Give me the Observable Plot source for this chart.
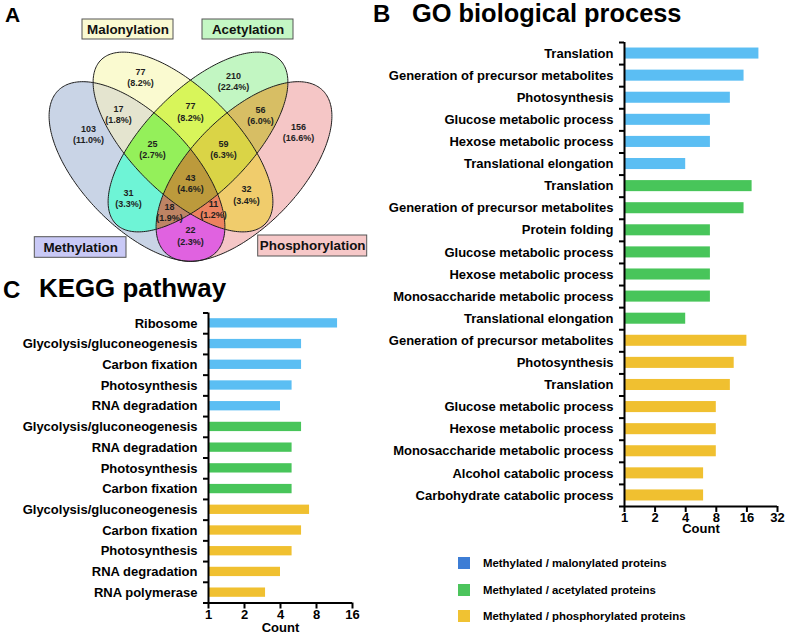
<!DOCTYPE html>
<html><head><meta charset="utf-8">
<script src="https://cdn.jsdelivr.net/npm/d3@7"></script>
<script src="https://cdn.jsdelivr.net/npm/@observablehq/plot@0.6"></script>
<style>
body{margin:0;background:#fff;}
#fig{position:relative;width:787px;height:634px;overflow:hidden;font-family:"Liberation Sans",Arial,Helvetica,sans-serif;color:#000;background:#fff;}
.abs{position:absolute;white-space:nowrap;line-height:1;font-weight:bold;}
</style></head>
<body><div id="fig"></div>
<script>
// ---------------- DATA ----------------
// Venn: sets (bit 1, 2, 4, 8)
const setNames = ["Methylation", "Malonylation", "Acetylation", "Phosphorylation"];
// each region = bit mask of the sets it belongs to
const regionSets = [1, 2, 4, 8, 3, 6, 12, 7, 14, 15, 5, 10, 13, 11, 9];
const regionCounts = [103, 77, 210, 156, 17, 77, 56, 25, 59, 43, 31, 32, 18, 11, 22];
const regionPercents = ["11.0%", "8.2%", "22.4%", "16.6%", "1.8%", "8.2%", "6.0%", "2.7%", "6.3%", "4.6%", "3.3%", "3.4%", "1.9%", "1.2%", "2.3%"];

// Groups
const groupNames = ["Methylated / malonylated proteins", "Methylated / acetylated proteins", "Methylated / phosphorylated proteins"];

// GO biological process
const goTerms = ["Translation", "Generation of precursor metabolites", "Photosynthesis", "Glucose metabolic process", "Hexose metabolic process", "Translational elongation",
  "Translation", "Generation of precursor metabolites", "Protein folding", "Glucose metabolic process", "Hexose metabolic process", "Monosaccharide metabolic process", "Translational elongation",
  "Generation of precursor metabolites", "Photosynthesis", "Translation", "Glucose metabolic process", "Hexose metabolic process", "Monosaccharide metabolic process", "Alcohol catabolic process", "Carbohydrate catabolic process"];
const goCounts = [21, 15, 11, 7, 7, 4, 18, 15, 7, 7, 7, 7, 4, 16, 12, 11, 8, 8, 8, 6, 6];
const goGroup = [0, 0, 0, 0, 0, 0, 1, 1, 1, 1, 1, 1, 1, 2, 2, 2, 2, 2, 2, 2, 2];
const goTicks = [1, 2, 4, 8, 16, 32];

// KEGG pathway
const keggTerms = ["Ribosome", "Glycolysis/gluconeogenesis", "Carbon fixation", "Photosynthesis", "RNA degradation",
  "Glycolysis/gluconeogenesis", "RNA degradation", "Photosynthesis", "Carbon fixation",
  "Glycolysis/gluconeogenesis", "Carbon fixation", "Photosynthesis", "RNA degradation", "RNA polymerase"];
const keggCounts = [12, 6, 6, 5, 4, 6, 5, 5, 5, 7, 6, 5, 4, 3];
const keggGroup = [0, 0, 0, 0, 0, 1, 1, 1, 1, 2, 2, 2, 2, 2];
const keggTicks = [1, 2, 4, 8, 16];

// ---------------- STYLE / LAYOUT ----------------
const FONT = '"Liberation Sans", Arial, Helvetica, sans-serif';
const barColors = ["#5bbef3", "#48c55a", "#f0c030"];
const legendColors = ["#3d7dd5", "#4cc45c", "#f0c232"];
const regionColor = {1: "#c9d4e6", 2: "#fafad0", 4: "#c2f6c2", 8: "#f5c6c6", 3: "#e4e4cf", 6: "#d8f55a", 12: "#d7be64",
  7: "#94f05a", 14: "#dad446", 15: "#bc9a3c", 5: "#6ef4d6", 10: "#f0cc6c", 13: "#be8464", 11: "#ec825f", 9: "#e062e0"};
// ellipse geometry (Venn panel pixels, angle in degrees, y down)
const ellipses = [
  {cx: 136.5, cy: 171, a: 113, b: 55, angle: 46},
  {cx: 182.5, cy: 141.5, a: 116, b: 52, angle: 45},
  {cx: 197.5, cy: 141.5, a: 116, b: 52, angle: 135},
  {cx: 243.5, cy: 171, a: 113, b: 55, angle: 134}
];
const regionLabelPos = [[88, 133.5], [140, 76.5], [233, 80.5], [298, 131.5], [118, 113.5], [190, 111], [260, 114.5],
  [152, 148.5], [223, 148.5], [190, 182.5], [128, 197.5], [246, 194], [169, 211.5], [213, 208.5], [190, 235]];
const setBoxes = [
  {x1: 34.3, x2: 126, y1: 236.7, y2: 257.3, fill: "#c9c9f6"},
  {x1: 82, x2: 173, y1: 19, y2: 39, fill: "#fafad2"},
  {x1: 202, x2: 293, y1: 19, y2: 39, fill: "#c4f7c4"},
  {x1: 257.7, x2: 366.7, y1: 235, y2: 256, fill: "#f6c8c8"}
];

const fig = document.getElementById("fig");
function addDiv(text, left, top, size) {
  const d = document.createElement("div");
  d.className = "abs";
  d.textContent = text;
  Object.assign(d.style, {left: left + "px", top: top + "px", fontSize: size + "px"});
  fig.appendChild(d);
  return d;
}
function addPlot(svg, left, top) {
  svg.style.position = "absolute";
  svg.style.left = left + "px";
  svg.style.top = top + "px";
  fig.appendChild(svg);
}

// ---------------- VENN ----------------
function inside(e, x, y) {
  const t = e.angle * Math.PI / 180, c = Math.cos(t), s = Math.sin(t);
  const dx = x - e.cx, dy = y - e.cy;
  const u = dx * c + dy * s, v = -dx * s + dy * c;
  return (u / e.a) ** 2 + (v / e.b) ** 2 <= 1;
}
function mask(x, y) {
  let m = 0;
  ellipses.forEach((e, k) => { if (inside(e, x, y)) m |= (1 << k); });
  return m;
}
const outline = [];
ellipses.forEach((e, k) => {
  const t = e.angle * Math.PI / 180, c = Math.cos(t), s = Math.sin(t);
  for (let deg = 0; deg <= 360; deg += 1.5) {
    const p = deg * Math.PI / 180;
    outline.push({set: setNames[k], x: e.cx + e.a * Math.cos(p) * c - e.b * Math.sin(p) * s, y: e.cy + e.a * Math.cos(p) * s + e.b * Math.sin(p) * c});
  }
});
const regions = regionSets.map((m, i) => ({mask: m, count: regionCounts[i], pct: regionPercents[i], x: regionLabelPos[i][0], y: regionLabelPos[i][1]}));
const boxes = setNames.map((name, k) => ({name, ...setBoxes[k]}));

const venn = Plot.plot({
  width: 380, height: 270, margin: 0,
  style: {fontFamily: FONT, background: "transparent", overflow: "visible"},
  x: {domain: [0, 380], range: [0, 380], axis: null},
  y: {domain: [0, 270], range: [0, 270], axis: null},
  color: {type: "identity"},
  marks: [
    Plot.raster({x1: 0, x2: 380, y1: 0, y2: 270, pixelSize: 1, fill: (x, y) => { const m = mask(x, y); return m ? regionColor[m] : "#ffffff"; }}),
    Plot.line(outline, {x: "x", y: "y", z: "set", stroke: "#1e1e1e", strokeWidth: 1}),
    Plot.text(regions, {x: "x", y: "y", text: d => `${d.count}\n(${d.pct})`, fontSize: 9, fontWeight: "bold", lineHeight: 1.25, fill: "#1e1e1e"}),
    Plot.rect(boxes, {x1: "x1", x2: "x2", y1: "y1", y2: "y2", fill: "fill", stroke: "#555", strokeWidth: 1}),
    Plot.text(boxes, {x: d => (d.x1 + d.x2) / 2, y: d => (d.y1 + d.y2) / 2, text: "name", fontSize: 13.4, fontWeight: "bold", fill: "#111"})
  ]
});
addPlot(venn, 0, 0);

// ---------------- BAR CHARTS ----------------
function barChart({terms, counts, groups, ticks, width, height, margins, pad, tickPadding, countDy}) {
  const n = terms.length;
  const data = terms.map((term, i) => ({i, term, count: counts[i], group: groups[i]}));
  const lo = ticks[0];
  return Plot.plot({
    width, height, ...margins,
    style: {fontFamily: FONT, fontWeight: "bold", fontSize: "13px", background: "transparent", overflow: "visible", color: "#000"},
    x: {type: "log", base: 2, domain: [lo, ticks[ticks.length - 1]], label: null},
    y: {domain: [0, n], reverse: true, label: null},
    color: {type: "ordinal", domain: [0, 1, 2], range: barColors},
    marks: [
      Plot.rect(data, {x1: lo, x2: "count", y1: d => d.i + pad, y2: d => d.i + 1 - pad, fill: "group"}),
      Plot.axisY({ticks: d3.range(n + 1), tickSize: 5, tickFormat: () => "", label: null, strokeWidth: 2}),
      Plot.ruleX([lo], {stroke: "#000", strokeWidth: 2}),
      Plot.ruleY([n], {stroke: "#000", strokeWidth: 2}),
      Plot.axisX({ticks, tickSize: 6, tickPadding, tickFormat: d => String(d), label: null, fontSize: 13, fontWeight: "bold", strokeWidth: 2}),
      Plot.text(data, {x: lo, y: d => d.i + 0.5, text: "term", textAnchor: "end", dx: -11, fontSize: 13, fontWeight: "bold", fill: "#000"}),
      Plot.text(["Count"], {frameAnchor: "bottom", lineAnchor: "middle", dy: countDy, fontSize: 13, fontWeight: "bold", fill: "#000"})
    ]
  });
}

const go = barChart({terms: goTerms, counts: goCounts, groups: goGroup, ticks: goTicks, width: 407, height: 540,
  margins: {marginLeft: 244, marginRight: 10, marginTop: 42, marginBottom: 34}, pad: 0.25, tickPadding: 0, countDy: 22.5});
addPlot(go, 380, 0);

const kegg = barChart({terms: keggTerms, counts: keggCounts, groups: keggGroup, ticks: keggTicks, width: 380, height: 334,
  margins: {marginLeft: 208, marginRight: 28, marginTop: 12.5, marginBottom: 31.5}, pad: 0.275, tickPadding: 1, countDy: 24.5});
addPlot(kegg, 0, 300);

// ---------------- TITLES ----------------
addDiv("A", 5, 4, 21);
addDiv("B", 373, 1.5, 24);
addDiv("GO biological process", 412, 1.2, 25.4);
addDiv("C", 3, 278, 24);
addDiv("KEGG pathway", 39, 276.4, 25.9);

// ---------------- LEGEND ----------------
const legendTops = [557, 584, 610];
groupNames.forEach((name, k) => {
  const sw = document.createElement("div");
  Object.assign(sw.style, {position: "absolute", left: "458px", top: legendTops[k] + "px", width: "12px", height: "12px", background: legendColors[k]});
  fig.appendChild(sw);
  addDiv(name, 483, legendTops[k] + 0.5, 11.4);
});
</script>
</body></html>
